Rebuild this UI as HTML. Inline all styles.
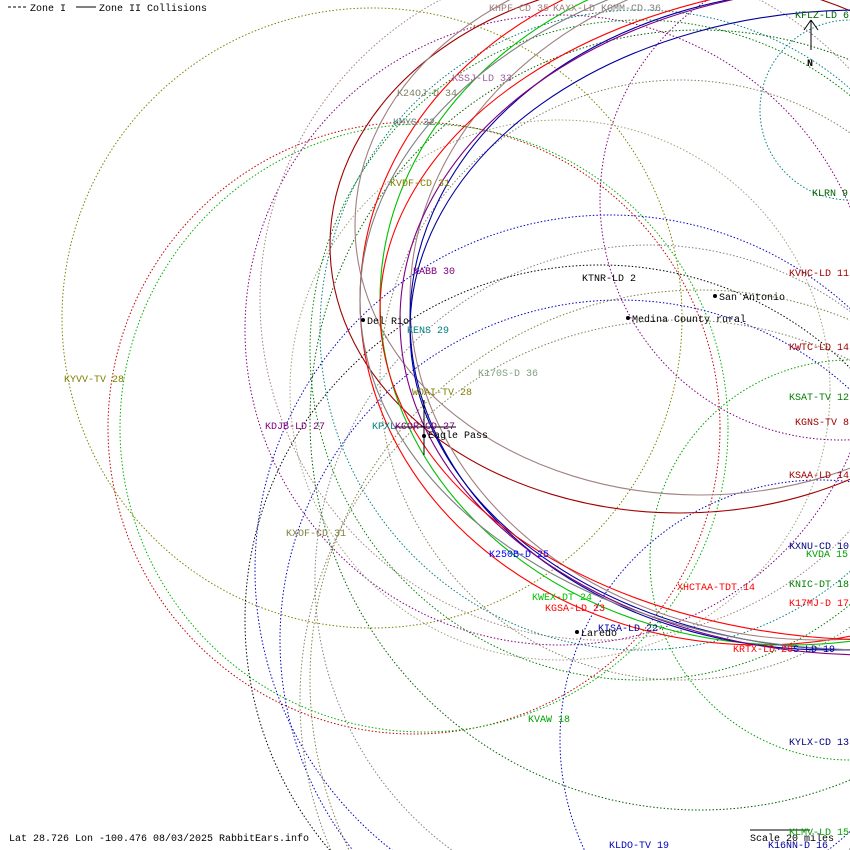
<!DOCTYPE html>
<html><head><meta charset="utf-8"><style>
html,body{margin:0;background:#fff;width:850px;height:850px;overflow:hidden}
svg{display:block}
text{font-family:"Liberation Mono","DejaVu Sans Mono",monospace;font-size:10px}
</style></head><body>
<svg width="850" height="850" viewBox="0 0 850 850" xmlns="http://www.w3.org/2000/svg">
<g fill="none" stroke-width="1" stroke-dasharray="1.5,2">
<circle cx="372" cy="318" r="310" stroke="#808000"/>
<circle cx="414" cy="428" r="306" stroke="#c00000"/>
<circle cx="424" cy="428" r="304" stroke="#00b000"/>
<circle cx="560" cy="330" r="315" stroke="#800080"/>
<circle cx="610" cy="570" r="355" stroke="#0000c0"/>
<circle cx="600" cy="620" r="355" stroke="#000000"/>
<circle cx="620" cy="640" r="340" stroke="#0000c0"/>
<circle cx="650" cy="580" r="335" stroke="#808080"/>
<circle cx="680" cy="700" r="380" stroke="#808060"/>
<circle cx="700" cy="680" r="390" stroke="#808040"/>
<circle cx="560" cy="390" r="270" stroke="#a0a080"/>
<circle cx="640" cy="350" r="330" stroke="#008000"/>
<circle cx="640" cy="330" r="320" stroke="#008080"/>
<circle cx="700" cy="420" r="390" stroke="#006000"/>
<circle cx="680" cy="380" r="300" stroke="#808060"/>
<circle cx="600" cy="300" r="340" stroke="#a08080"/>
<circle cx="840" cy="200" r="240" stroke="#800080"/>
<circle cx="850" cy="560" r="200" stroke="#00a000"/>
<circle cx="820" cy="740" r="260" stroke="#0000c0"/>
<circle cx="850" cy="110" r="90" stroke="#008080"/>
</g>
<g fill="none" stroke-width="1.1">
<ellipse cx="680" cy="245" rx="350" ry="268" stroke="#a00000"/>
<ellipse cx="700" cy="225" rx="345" ry="270" stroke="#a08080"/>
<ellipse cx="760" cy="300" rx="400" ry="345" stroke="#ff0000"/>
<ellipse cx="790" cy="300" rx="410" ry="345" stroke="#00c000"/>
<ellipse cx="820" cy="300" rx="410" ry="340" stroke="#a08080"/>
<ellipse cx="830" cy="320" rx="420" ry="330" stroke="#0000a0"/>
<ellipse cx="860" cy="330" rx="450" ry="320" stroke="#0000a0"/>
<ellipse cx="870" cy="320" rx="470" ry="335" stroke="#800080"/>
<ellipse cx="880" cy="310" rx="500" ry="330" stroke="#ff0000"/>
<ellipse cx="870" cy="300" rx="510" ry="350" stroke="#808080"/>
</g>
<g stroke="#000" stroke-width="1">
<line x1="424" y1="400" x2="424" y2="455"/><line x1="395" y1="427" x2="456" y2="427"/>
<line x1="811" y1="20" x2="811" y2="50"/><line x1="811" y1="20" x2="804" y2="30"/><line x1="811" y1="20" x2="818" y2="30"/>
<line x1="750" y1="830" x2="810" y2="830"/>
<line x1="8" y1="7" x2="26" y2="7" stroke-dasharray="3,2"/><line x1="76" y1="7" x2="96" y2="7"/>
</g>
<g fill="#000"><circle cx="363" cy="320" r="2"/><circle cx="424" cy="436" r="2"/><circle cx="715" cy="296" r="2"/><circle cx="628" cy="318" r="2"/><circle cx="577" cy="632" r="2"/></g>
<text x="30" y="11">Zone I</text><text x="99" y="11">Zone II Collisions</text>
<text x="807" y="66" font-weight="bold" font-size="12">N</text>
<text x="795" y="18" fill="#006000">KFLZ-LD 6</text>
<text x="489" y="11" fill="#a08080">KHPF-CD 35</text><text x="553" y="11" fill="#a08080">KAXX-LD</text><text x="601" y="11" fill="#808080">KGMM-CD 36</text>
<text x="452" y="81" fill="#a060a0">KSSJ-LD 33</text>
<text x="397" y="96" fill="#808060">K24OJ-D 34</text>
<text x="393" y="125" fill="#608080">KMYS 32</text>
<text x="390" y="186" fill="#808000">KVDF-CD 31</text>
<text x="812" y="196" fill="#006000">KLRN 9</text>
<text x="413" y="274" fill="#800080">KABB 30</text>
<text x="582" y="281">KTNR-LD 2</text>
<text x="789" y="276" fill="#a00000">KVHC-LD 11</text>
<text x="719" y="300">San Antonio</text>
<text x="632" y="322">Medina County rural</text>
<text x="367" y="324">Del Rio</text>
<text x="407" y="333" fill="#008080">KENS 29</text>
<text x="789" y="350" fill="#a00000">KWTC-LD 14</text>
<text x="478" y="376" fill="#80a080">K170S-D 36</text>
<text x="64" y="382" fill="#808000">KYVV-TV 28</text>
<text x="412" y="395" fill="#808000">WOAI-TV 28</text>
<text x="789" y="400" fill="#008000">KSAT-TV 12</text>
<text x="795" y="425" fill="#a00000">KGNS-TV 8</text>
<text x="265" y="429" fill="#800080">KDJB-LD 27</text>
<text x="372" y="429" fill="#008080">KPXL</text><text x="395" y="429" fill="#800080">KCOR-CD 27</text>
<text x="428" y="438">Eagle Pass</text>
<text x="789" y="478" fill="#a00000">KSAA-LD 14</text>
<text x="286" y="536" fill="#808040">KXOF-CD 31</text>
<text x="789" y="549" fill="#000080">KXNU-CD 10</text>
<text x="806" y="557" fill="#00a000">KVDA 15</text>
<text x="489" y="557" fill="#0000ff">K250B-D 25</text>
<text x="789" y="587" fill="#008000">KNIC-DT 18</text>
<text x="677" y="590" fill="#ff0000">XHCTAA-TDT 14</text>
<text x="532" y="600" fill="#00c000">KWEX-DT 24</text>
<text x="789" y="606" fill="#ff0000">K17MJ-D 17</text>
<text x="545" y="611" fill="#ff0000">KGSA-LD 23</text>
<text x="598" y="631" fill="#0000a0">KISA-LD 22</text>
<text x="581" y="636">Laredo</text>
<text x="733" y="652" fill="#ff0000">KRTX-LD 20</text><text x="793" y="652" fill="#0000a0">S-LD 19</text>
<text x="528" y="722" fill="#00a000">KVAW 18</text>
<text x="789" y="745" fill="#000080">KYLX-CD 13</text>
<text x="9" y="841">Lat 28.726 Lon -100.476 08/03/2025 RabbitEars.info</text>
<text x="750" y="841">Scale 20 miles</text>
<text x="789" y="835" fill="#00a000">KLMV-LD 15</text>
<text x="609" y="848" fill="#0000c0">KLDO-TV 19</text>
<text x="768" y="848" fill="#0000a0">K16NN-D 16</text>
</svg>
</body></html>
